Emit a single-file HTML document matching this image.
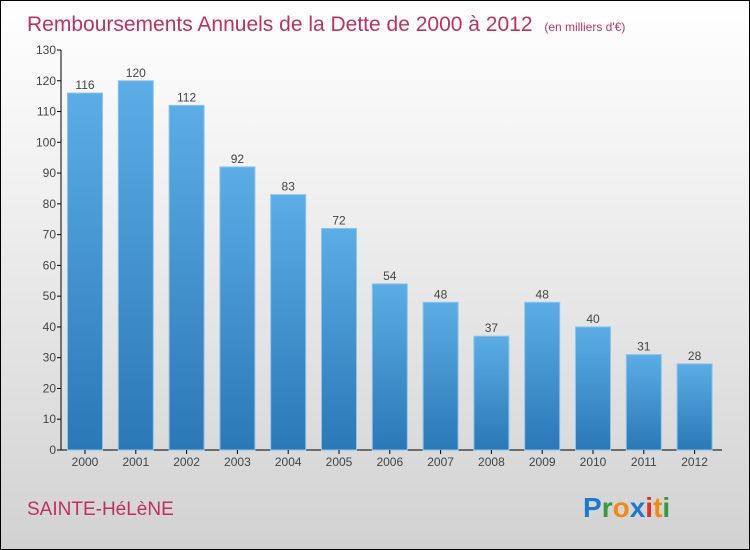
<!DOCTYPE html>
<html><head><meta charset="utf-8"><style>
body{margin:0}
#c{width:748px;height:548px;border:1px solid #000;position:relative;background:linear-gradient(#ffffff,#f2f2f2 30%,#d2d2d2);font-family:"Liberation Sans",sans-serif;overflow:hidden}
</style></head><body>
<div id="c">
<svg width="748" height="548" id="s">
<defs><linearGradient id="g" x1="0" y1="0" x2="0" y2="1"><stop offset="0" stop-color="#5cade6"/><stop offset="1" stop-color="#2a78b6"/></linearGradient></defs>
<text x="26" y="30" font-size="21" fill="#c0305f">Remboursements Annuels de la Dette de 2000 à 2012 <tspan font-size="12" dx="6">(en milliers d'€)</tspan></text>
<text x="26" y="514" font-size="19" fill="#c0305f">SAINTE-HéLèNE</text>
<text x="582" y="516" font-size="28" font-weight="bold"><tspan fill="#1a7ad0">P</tspan><tspan fill="#3a9a3a">r</tspan><tspan fill="#f08a10">o</tspan><tspan fill="#1a7ad0">x</tspan><tspan fill="#e03020">i</tspan><tspan fill="#f08a10">t</tspan><tspan fill="#3a9a3a">i</tspan></text>
<g id="plot"></g>
</svg></div>
<script>
const categories=["2000","2001","2002","2003","2004","2005","2006","2007","2008","2009","2010","2011","2012"];
const values=[116,120,112,92,83,72,54,48,37,48,40,31,28];
const ticks=[0,10,20,30,40,50,60,70,80,90,100,110,120,130];
const NS="http://www.w3.org/2000/svg";
const g=document.getElementById('plot');
const y0=449,yTop=49,vmax=130,x0=60,step=50.8,first=84,bw=35;
const y=v=>y0-(v/vmax)*(y0-yTop);
const x=i=>first+i*step;
function mk(t,a,txt){const e=document.createElementNS(NS,t);for(const k in a)e.setAttribute(k,a[k]);if(txt!=null)e.textContent=txt;g.appendChild(e);return e;}
let e=mk('line',{x1:x0,y1:yTop,x2:x0,y2:y0,stroke:'#000'});


e=mk('line',{x1:x0,y1:y0,x2:721,y2:y0,stroke:'#000'});


ticks.forEach(t=>{
 e=mk('line',{x1:x0-4,y1:y(t),x2:x0,y2:y(t),stroke:'#000'});
 
 
 e=mk('text',{x:x0-5,y:y(t)+4,'font-size':12,fill:'#444','text-anchor':'end'},t);
 
 
});
categories.forEach((c,i)=>{
 const v=values[i];
 e=mk('rect',{x:x(i)-bw/2,y:y(v),width:bw,height:y0-y(v),fill:'url(#g)',stroke:'#8cc4ee','stroke-width':1});
 
 
 e=mk('text',{x:x(i),y:y(v)-4,'font-size':12,fill:'#444','text-anchor':'middle'},v);
 
 
 e=mk('line',{x1:x(i),y1:y0,x2:x(i),y2:y0+4,stroke:'#000'});
 
 
 e=mk('text',{x:x(i),y:y0+16,'font-size':12,fill:'#444','text-anchor':'middle'},c);
 
 
});
</script>
</body></html>
